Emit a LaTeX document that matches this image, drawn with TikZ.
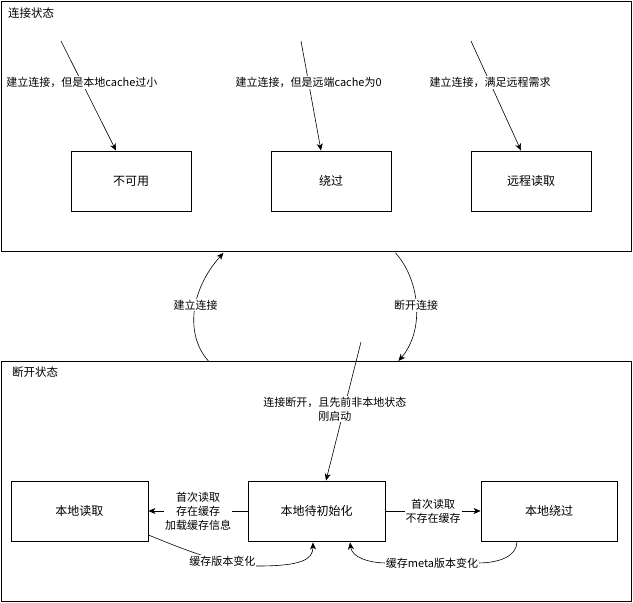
\documentclass[tikz,border=0pt]{standalone}
\usepackage{fontspec}
\setmainfont{Noto Sans CJK SC}
\usetikzlibrary{arrows.meta,calc}
\begin{document}
\begin{tikzpicture}[x=1pt,y=-1pt,
  container/.style={draw, line width=0.9pt, anchor=north west, inner sep=0pt},
  statebox/.style={draw, line width=0.9pt, minimum height=60pt, inner sep=0pt, font=\fontsize{12}{14}\selectfont},
  lbl/.style={fill=white, inner sep=1pt, font=\fontsize{11}{14}\selectfont, align=center},
  ctitle/.style={anchor=west, inner sep=0pt, font=\fontsize{11.5}{14}\selectfont},
  arr/.style={line width=0.6pt, -{Stealth[length=7pt,width=6pt,inset=2pt]}}]
\useasboundingbox (0,0) rectangle (633,603);

% containers
\node[container, minimum width=630pt, minimum height=250pt] (conn) at (1,1) {};
\node[container, minimum width=630pt, minimum height=240pt] (disc) at (1,361) {};
\node[ctitle] (conntitle) at (8,13) {连接状态};
\node[ctitle] (disctitle) at (12,372) {断开状态};

% top state boxes
\node[statebox, minimum width=120pt] (uk) at (131,181) {不可用};
\node[statebox, minimum width=120pt] (rg) at (331,181) {绕过};
\node[statebox, minimum width=120pt] (yc) at (531,181) {远程读取};

% bottom state boxes
\node[statebox, minimum width=137pt] (ld) at (79.5,511) {本地读取};
\node[statebox, minimum width=137pt] (init) at (316.5,511) {本地待初始化};
\node[statebox, minimum width=136pt] (lr) at (549,511) {本地绕过};

% free starts
\coordinate (s1) at (61,41);
\coordinate (s2) at (301,41);
\coordinate (s3) at (471,41);
\coordinate (s4) at (361,342);

% top arrows
\draw[arr] (s1) -- ($(uk.north)+(-15,0)$) node[lbl, pos=0.38] {建立连接，但是本地cache过小};
\draw[arr] (s2) -- ($(rg.north)+(-10,0)$) node[lbl, pos=0.38] {建立连接，但是远端cache为0};
\draw[arr] (s3) -- ($(yc.north)+(-10,0)$) node[lbl, pos=0.38] {建立连接，满足远程需求};

% between containers
\draw[arr] ($(disc.north)+(-108,0)$) .. controls (185,335) and (190,290) .. ($(conn.south)+(-93,1)$)
  node[lbl, pos=0.55] {建立连接};
\draw[arr] ($(conn.south)+(79,1)$) .. controls (420,280) and (425,330) .. ($(disc.north)+(82,0)$)
  node[lbl, pos=0.5] {断开连接};

% into init
\draw[arr] (s4) -- ($(init.north)+(9.5,0)$) node[lbl, pos=0.486, xshift=-9pt] {连接断开，且先前非本地状态\\刚启动};

% horizontal arrows
\draw[arr] (init.west) -- (ld.east) node[lbl, midway] {首次读取\\存在缓存\\加载缓存信息};
\draw[arr] (init.east) -- (lr.west) node[lbl, midway] {首次读取\\不存在缓存};

% bottom curves
\draw[arr] ($(ld.east)+(0,24)$) .. controls (185,550) and (225,566) .. (258,566)
  node[lbl, pos=0.66] {缓存版本变化}
  .. controls (300,566) and (313,560) .. ($(init.south)+(-3.5,1)$);
\draw[arr] ($(lr.south)+(-32,0)$) .. controls (517,556) and (500,563) .. (477,563)
  -- (387,563) node[lbl, midway] {缓存meta版本变化}
  .. controls (368,563) and (352,557) .. ($(init.south)+(33.5,1)$);
\end{tikzpicture}
\end{document}
